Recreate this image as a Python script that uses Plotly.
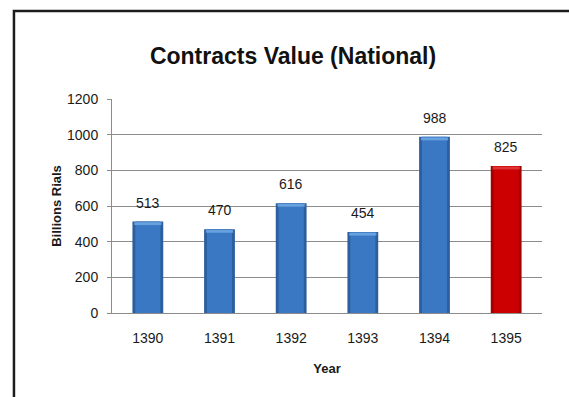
import plotly.graph_objects as go

# Contract values by year (billions of rials)
years = ["1390", "1391", "1392", "1393", "1394", "1395"]
values = [513, 470, 616, 454, 988, 825]
bar_colors = ["#3b78c3", "#3b78c3", "#3b78c3", "#3b78c3", "#3b78c3", "#cc0000"]
edge_colors = ["#2d5f9e", "#2d5f9e", "#2d5f9e", "#2d5f9e", "#2d5f9e", "#a30000"]
cap_colors = ["#7ab4ec", "#7ab4ec", "#7ab4ec", "#7ab4ec", "#7ab4ec", "#e44a4a"]

y_ticks = [0, 200, 400, 600, 800, 1000, 1200]

FONT = "Liberation Sans Narrow, Arial Narrow, Liberation Sans, sans-serif"

fig = go.Figure()

# darker outer body gives the bars their rounded edges
fig.add_trace(go.Bar(x=years, y=values, width=0.43,
                     marker=dict(color=edge_colors, line=dict(width=0)),
                     hoverinfo="skip", showlegend=False))
# main body colour
fig.add_trace(go.Bar(x=years, y=values, width=0.35,
                     marker=dict(color=bar_colors, line=dict(width=0)),
                     hoverinfo="skip", showlegend=False))
# light cap across the top of each bar
cap_height = [16] * len(values)
fig.add_trace(go.Bar(x=years, y=cap_height, base=[v - 20 for v in values], width=0.38,
                     marker=dict(color=cap_colors, line=dict(width=0)),
                     opacity=0.7, hoverinfo="skip", showlegend=False))

# value labels above the bars (category axis positions are serial indices)
for i, v in enumerate(values):
    fig.add_annotation(x=i, y=v, text=str(v), showarrow=False,
                       yanchor="bottom", yshift=9,
                       font=dict(family=FONT, size=14, color="#1a1a1a"))

fig.update_layout(
    width=569, height=397,
    margin=dict(l=112, r=27, t=99, b=84),
    paper_bgcolor="white", plot_bgcolor="white",
    barmode="overlay",
    title=dict(text="<b>Contracts Value (National)</b>", x=0.515, xanchor="center",
               y=0.858, yanchor="middle",
               font=dict(family=FONT, size=23, color="#111111")),
    font=dict(family=FONT, size=14, color="#1a1a1a"),
    xaxis=dict(
        type="category", categoryorder="array", categoryarray=years,
        showline=True, linecolor="#8c8c8c", linewidth=1,
        ticks="", showgrid=False,
        tickfont=dict(family=FONT, size=14, color="#1a1a1a"),
        ticklabelstandoff=12,
        title=dict(text="<b>Year</b>", font=dict(family=FONT, size=13, color="#1a1a1a"),
                   standoff=19),
    ),
    yaxis=dict(
        range=[0, 1200], tickvals=y_ticks,
        showline=True, linecolor="#8c8c8c", linewidth=1,
        ticks="outside", ticklen=4, tickcolor="#8c8c8c",
        showgrid=True, gridcolor="#8c8c8c", gridwidth=1,
        zeroline=False,
        tickfont=dict(family=FONT, size=14, color="#1a1a1a"),
        ticklabelstandoff=6,
        title=dict(text="<b>Billions Rials</b>", font=dict(family=FONT, size=13, color="#1a1a1a"),
                   standoff=2),
    ),
)

# dark frame around the chart (runs off the right and bottom edges)
fig.add_shape(type="rect", xref="paper", yref="paper",
              x0=-0.228, x1=1.08, y0=-0.42, y1=1.411,
              line=dict(color="#1c1c1c", width=2.5), layer="above")

fig.write_html("out.html")
